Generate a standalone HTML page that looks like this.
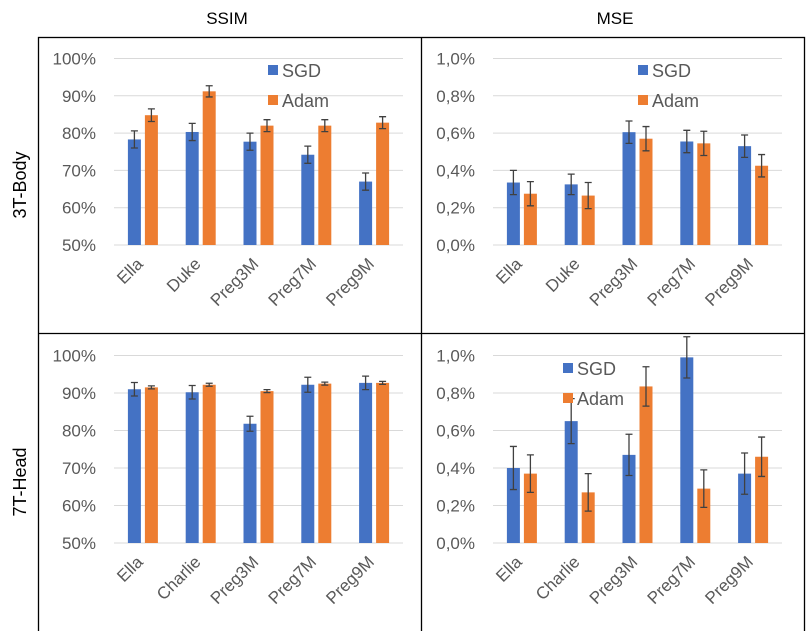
<!DOCTYPE html>
<html><head><meta charset="utf-8"><style>
body{margin:0;background:#fff;}
svg{display:block;font-family:"Liberation Sans",sans-serif;}
</style></head><body>
<svg id="c" width="806" height="631">
<text x="227" y="24" font-size="17" text-anchor="middle">SSIM</text>
<text x="615" y="24" font-size="17" text-anchor="middle">MSE</text>
<text transform="translate(26,185) rotate(-90)" font-size="18" text-anchor="middle">3T-Body</text>
<text transform="translate(26,482) rotate(-90)" font-size="18" text-anchor="middle">7T-Head</text>
<rect x="38.5" y="37.5" width="766" height="600" fill="none" stroke="#000" stroke-width="1.3"/>
<line x1="421.5" y1="37" x2="421.5" y2="631" stroke="#000" stroke-width="1.3"/>
<line x1="38" y1="333.5" x2="805" y2="333.5" stroke="#000" stroke-width="1.3"/>
</svg>
<script>
const catsTop=["Ella","Duke","Preg3M","Preg7M","Preg9M"];
const catsBot=["Ella","Charlie","Preg3M","Preg7M","Preg9M"];
const ssimTopSGD=[78.3,80.3,77.7,74.2,67.0];
const ssimTopAdam=[84.8,91.2,82.0,82.0,82.8];
const ssimTopErrSGD=[2.3,2.3,2.3,2.3,2.3];
const ssimTopErrAdam=[1.7,1.5,1.6,1.6,1.6];
const mseTopSGD=[0.335,0.325,0.605,0.555,0.53];
const mseTopAdam=[0.275,0.265,0.57,0.545,0.425];
const mseTopErrSGD=[0.065,0.055,0.06,0.06,0.06];
const mseTopErrAdam=[0.065,0.07,0.065,0.065,0.06];
const ssimBotSGD=[91.0,90.2,81.8,92.2,92.7];
const ssimBotAdam=[91.5,92.2,90.5,92.5,92.7];
const ssimBotErrSGD=[1.8,1.8,2.0,2.0,1.8];
const ssimBotErrAdam=[0.4,0.4,0.4,0.4,0.4];
const mseBotSGD=[0.40,0.65,0.47,0.99,0.37];
const mseBotAdam=[0.37,0.27,0.835,0.29,0.46];
const mseBotErrSGD=[0.115,0.12,0.11,0.11,0.11];
const mseBotErrAdam=[0.1,0.1,0.105,0.1,0.105];
const ssimTicks=["50%","60%","70%","80%","90%","100%"];
const mseTicks=["0,0%","0,2%","0,4%","0,6%","0,8%","1,0%"];
const svg=document.getElementById('c');
const NS="http://www.w3.org/2000/svg";
function mk(t,a){const e=document.createElementNS(NS,t);for(const k in a)e.setAttribute(k,a[k]);svg.appendChild(e);return e;}
function panel(id,x0,x1,yTop,yBot,vmin,vmax,ticks,cats,s1,s2,e1,e2,legend){
  const y=v=>yBot-(v-vmin)/(vmax-vmin)*(yBot-yTop);
  const bw=(x1-x0)/cats.length;
  ticks.forEach((t,i)=>{
    const v=vmin+i*(vmax-vmin)/(ticks.length-1);
    const g=mk('line',{x1:x0,x2:x1,y1:y(v),y2:y(v),stroke:'#d9d9d9','stroke-width':1});
    
    
    const tx=mk('text',{x:x0-18,y:y(v)+6,'font-size':17,fill:'#595959','text-anchor':'end'});
    tx.textContent=t;
    
    
  });
  cats.forEach((c,i)=>{
    const cx=x0+bw*(i+0.5);
    [[s1,e1,'#4472c4',cx-15,'sgd'],[s2,e2,'#ed7d31',cx+2,'adam']].forEach(([s,e,col,bx,nm])=>{
      const r=mk('rect',{x:bx,y:y(s[i]),width:13,height:yBot-y(s[i]),fill:col});
      
      
      const ex=bx+6.5,ya=y(s[i]+e[i]),yb=y(s[i]-e[i]);
      const p=mk('path',{d:`M${ex},${ya}V${yb}M${ex-3.5},${ya}H${ex+3.5}M${ex-3.5},${yb}H${ex+3.5}`,stroke:'#404040','stroke-width':1.3,fill:'none'});
      
      
    });
    const lt=mk('text',{transform:`translate(${cx+1},${yBot+20}) rotate(-45)`,'font-size':17,fill:'#595959','text-anchor':'end'});
    lt.textContent=c;
    
    
  });
  if(legend){
    [['#4472c4','SGD',0],['#ed7d31','Adam',30]].forEach(([col,t,dy])=>{
      const r=mk('rect',{x:legend[0],y:legend[1]+dy-5,width:10,height:10,fill:col});
      
      
      const tx=mk('text',{x:legend[0]+14,y:legend[1]+dy+7,'font-size':18,fill:'#595959'});
      tx.textContent=t;
      
      
    });
  }
}
panel('ssim-top',114,403,58.5,245,50,100,ssimTicks,catsTop,ssimTopSGD,ssimTopAdam,ssimTopErrSGD,ssimTopErrAdam,[268,70]);
panel('mse-top',493,782,58.5,245,0,1,mseTicks,catsTop,mseTopSGD,mseTopAdam,mseTopErrSGD,mseTopErrAdam,[638,70]);
panel('ssim-bottom',114,403,355.5,543,50,100,ssimTicks,catsBot,ssimBotSGD,ssimBotAdam,ssimBotErrSGD,ssimBotErrAdam,null);
panel('mse-bottom',493,782,355.5,543,0,1,mseTicks,catsBot,mseBotSGD,mseBotAdam,mseBotErrSGD,mseBotErrAdam,[563,368]);
</script>
</body></html>
